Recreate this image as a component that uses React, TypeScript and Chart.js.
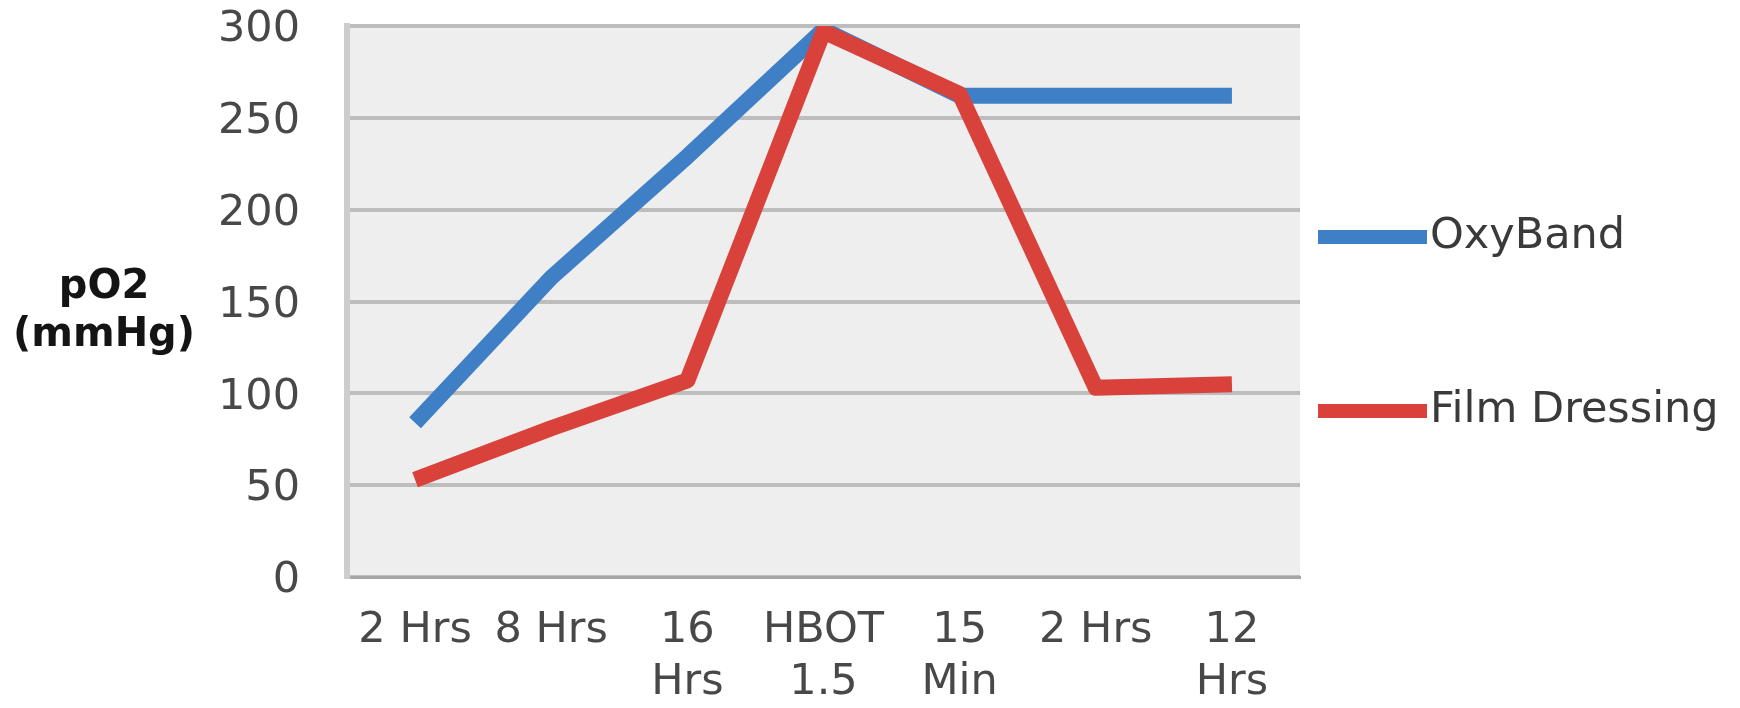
import React, { useEffect, useRef } from 'react';
import { Chart, registerables } from 'chart.js';

Chart.register(...registerables);

// ---- data ----
const categories: string[][] = [
  ['2 Hrs'],
  ['8 Hrs'],
  ['16', 'Hrs'],
  ['HBOT', '1.5'],
  ['15', 'Min'],
  ['2 Hrs'],
  ['12', 'Hrs'],
];
const oxyBand = [84, 163, 229, 298, 262, 262, 262];
const filmDressing = [53, 81, 107, 297, 263, 103, 105];
const seriesNames = ['OxyBand', 'Film Dressing'];
const seriesColors = ['#3F7FC6', '#D9413B'];
const yMin = 0;
const yMax = 300;
const yStep = 50;
const yTitleLines = ['pO2', '(mmHg)'];

const FONT = '"DejaVu Sans", sans-serif';

const decorPlugin = {
  id: 'decor',
  beforeDraw(chart: any) {
    const { ctx, chartArea: a } = chart;
    ctx.save();
    ctx.fillStyle = '#EEEEEE';
    ctx.fillRect(a.left, a.top, a.right - a.left, a.bottom - a.top);
    ctx.restore();
  },
  afterDraw(chart: any) {
    const { ctx, chartArea: a } = chart;
    ctx.save();
    // y-axis title, horizontal, two lines
    ctx.font = `bold 40px ${FONT}`;
    ctx.fillStyle = '#141414';
    ctx.textAlign = 'center';
    ctx.textBaseline = 'alphabetic';
    ctx.fillText(yTitleLines[0], 104, a.top + 272);
    ctx.fillText(yTitleLines[1], 104, a.top + 320);
    // legend
    const ys = [a.top + 211, a.top + 385];
    chart.data.datasets.forEach((ds: any, i: number) => {
      const y = ys[i];
      ctx.beginPath();
      ctx.strokeStyle = ds.borderColor;
      ctx.lineWidth = 14;
      ctx.lineCap = 'butt';
      ctx.moveTo(a.right + 18, y);
      ctx.lineTo(a.right + 127, y);
      ctx.stroke();
      ctx.font = `43px ${FONT}`;
      ctx.fillStyle = '#3A3A3A';
      ctx.textAlign = 'left';
      ctx.textBaseline = 'middle';
      ctx.fillText(ds.label, a.right + 130, y);
    });
    ctx.restore();
  },
};

export default function App() {
  const canvasRef = useRef<HTMLCanvasElement | null>(null);

  useEffect(() => {
    const canvas = canvasRef.current;
    if (!canvas) return;
    const chart = new Chart(canvas, {
      type: 'line',
      data: {
        labels: categories,
        datasets: [
          {
            label: seriesNames[0],
            data: oxyBand,
            borderColor: seriesColors[0],
            backgroundColor: seriesColors[0],
            borderWidth: 16,
            pointRadius: 0,
            tension: 0,
            borderJoinStyle: 'round',
            borderCapStyle: 'butt',
            order: 1,
          },
          {
            label: seriesNames[1],
            data: filmDressing,
            borderColor: seriesColors[1],
            backgroundColor: seriesColors[1],
            borderWidth: 16,
            pointRadius: 0,
            tension: 0,
            borderJoinStyle: 'round',
            borderCapStyle: 'butt',
            order: 0,
          },
        ],
      },
      options: {
        responsive: false,
        animation: false,
        devicePixelRatio: 1,
        layout: { padding: { left: 0, right: 440, top: 0, bottom: 0 } },
        plugins: {
          legend: { display: false },
          tooltip: { enabled: false },
          title: { display: false },
        },
        scales: {
          x: {
            type: 'category',
            offset: true,
            afterFit(scale: any) {
              scale.height = 131;
            },
            grid: { display: true, drawOnChartArea: false, drawTicks: false },
            border: { display: true, color: '#A6A6A6', width: 3 },
            ticks: {
              color: '#484848',
              font: { family: FONT, size: 43 },
              padding: 28,
              maxRotation: 0,
              autoSkip: false,
            },
          },
          y: {
            min: yMin,
            max: yMax,
            afterFit(scale: any) {
              scale.width = 347;
              scale.paddingTop = 26;
              scale.paddingBottom = 26;
            },
            grid: { color: '#BDBDBD', lineWidth: 4, drawTicks: false },
            border: { display: true, color: '#CDCDCD', width: 6 },
            ticks: {
              stepSize: yStep,
              color: '#484848',
              font: { family: FONT, size: 43 },
              padding: 47,
              labelOffset: 4,
            },
          },
        },
      },
      plugins: [decorPlugin],
    } as any);
    return () => chart.destroy();
  }, []);

  return (
    <div style={{ position: 'fixed', left: 0, top: 0, width: 1740, height: 708, background: '#fff' }}>
      <canvas ref={canvasRef} width={1740} height={708} style={{ width: 1740, height: 708, display: 'block' }} />
    </div>
  );
}
